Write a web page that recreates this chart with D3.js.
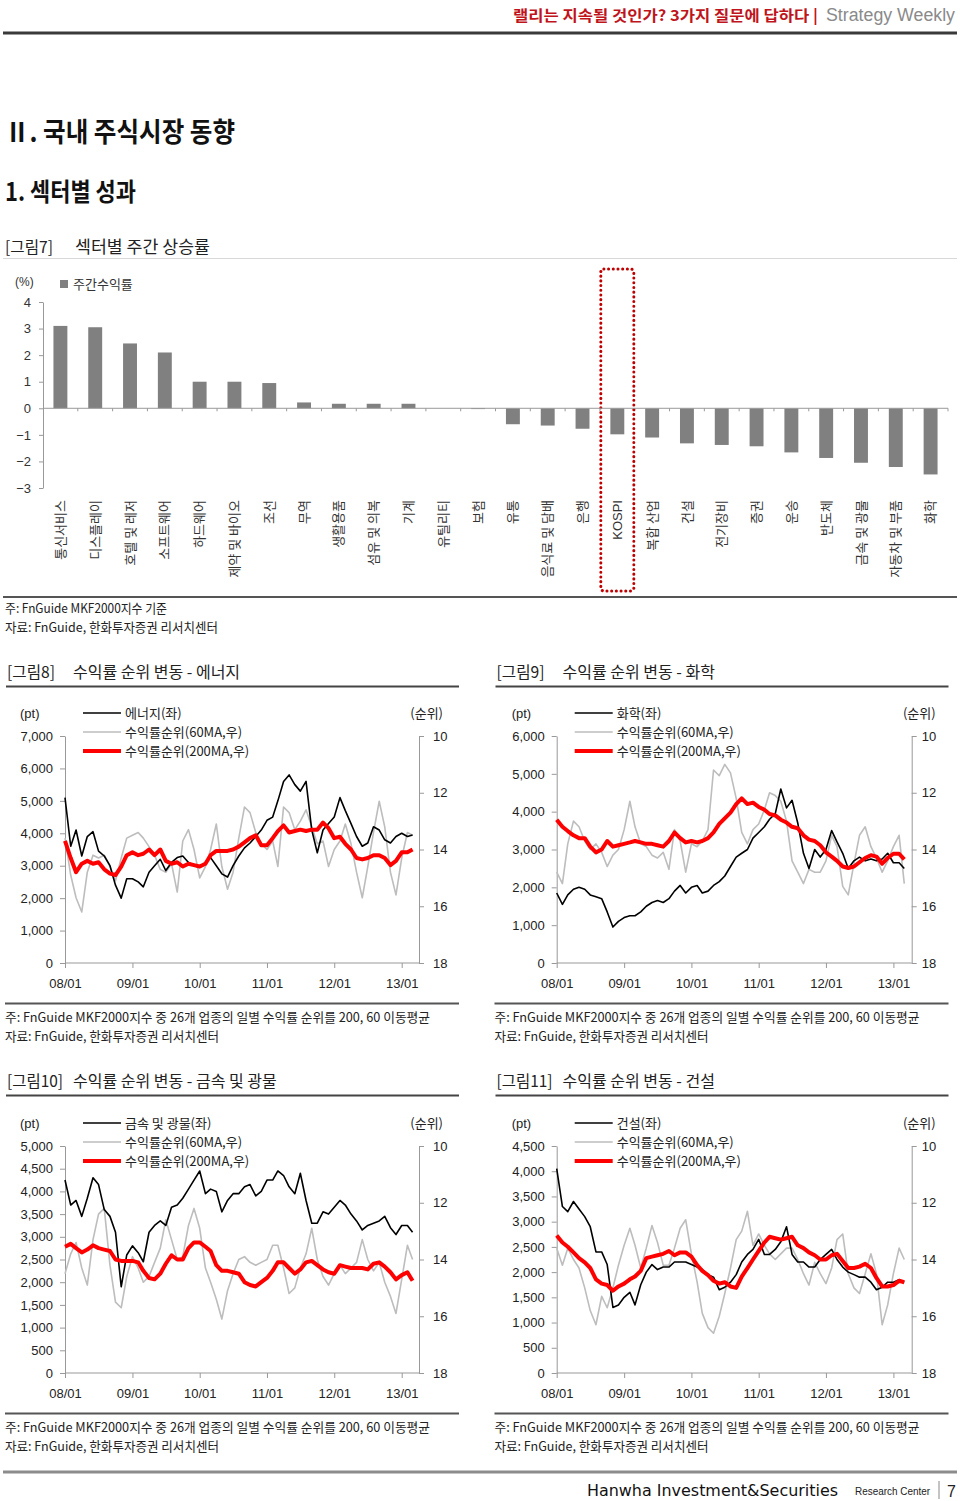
<!DOCTYPE html>
<html><head><meta charset="utf-8">
<script src="https://cdn.jsdelivr.net/npm/d3@7"></script>
<style>
body{margin:0;background:#fff}
svg{display:block}
text{font-family:'Liberation Sans','Noto Sans CJK KR',sans-serif;fill:#222}
</style></head><body>
<svg id="page" width="960" height="1501"></svg>
<script>
// ---------- DATA ----------
const sectors=["통신서비스","디스플레이","호텔 및 레저","소프트웨어","하드웨어","제약 및 바이오","조선","무역","생활용품","섬유 및 의복","기계","유틸리티","보험","유통","음식료 및 담배","은행","KOSPI","복합 산업","건설","전기장비","증권","운송","반도체","금속 및 광물","자동차 및 부품","화학"];
const weeklyReturns=[3.1,3.05,2.44,2.1,1.0,1.0,0.95,0.22,0.17,0.17,0.17,0.0,-0.03,-0.6,-0.65,-0.77,-0.98,-1.1,-1.32,-1.38,-1.43,-1.66,-1.87,-2.05,-2.21,-2.49];
const barTicks=[4,3,2,1,0,-1,-2,-3];

const yearTicks=["08/01","09/01","10/01","11/01","12/01","13/01"];
const rankTicks=[10,12,14,16,18];

const energyIndex=[5100,3600,4100,3300,3900,4050,3450,3300,3000,2400,2000,2600,
 2600,2500,2350,2800,3000,3200,2850,3100,3250,3300,3100,3000,
 2950,3100,3250,3000,2750,2650,3000,3300,3550,3700,3900,4100,
 4400,4500,5000,5600,5800,5500,5300,5600,4100,3400,4100,4300,
 4500,5100,4700,4300,3900,3600,3700,4200,4100,3800,3700,3900,
 4000,3900,3950];
const energyRank60=[13.6,14.9,15.7,16.2,14.8,14.2,14.3,14.2,14.6,15.1,14.3,13.6,
 13.5,13.4,13.6,13.9,14.2,14.7,14.8,14.5,15.5,13.7,13.3,14.0,
 15.0,14.6,14.0,13.1,14.6,15.4,14.8,13.6,12.5,12.7,13.4,13.8,
 14.0,13.7,14.6,12.5,12.7,13.3,13.0,12.6,13.2,13.8,13.7,14.6,
 14.0,13.7,13.1,13.8,14.8,15.7,14.6,13.4,12.3,13.2,14.8,15.6,
 14.3,13.4,13.5];
const energyRank200=[13.7,14.3,14.8,14.5,14.4,14.5,14.45,14.7,14.85,14.9,14.6,14.2,
 14.1,14.2,14.15,14.0,14.2,14.0,14.4,14.5,14.45,14.6,14.5,14.55,
 14.6,14.5,14.2,14.05,14.05,14.05,14.0,13.9,13.75,13.6,13.5,13.85,
 13.85,13.6,13.35,13.15,13.4,13.35,13.3,13.35,13.3,13.3,13.05,13.25,
 13.6,13.55,13.8,14.0,14.3,14.35,14.3,14.2,14.2,14.3,14.55,14.4,
 14.1,14.1,14.0];

const chemIndex=[1850,1550,1800,1950,2000,1950,1800,1750,1700,1350,950,1100,
 1200,1250,1250,1350,1500,1600,1650,1600,1700,1900,2050,1850,
 2000,2050,1850,1900,2050,2150,2300,2550,2800,2900,3000,3300,
 3450,3600,3800,3950,4600,4100,4300,3700,2900,2500,3000,2800,
 3000,3500,3200,2900,2500,2700,2800,2700,2750,2700,2750,2900,
 2650,2650,2500];
const chemRank60=[14.8,15.2,13.8,13.0,13.2,13.7,14.0,13.8,14.1,14.6,14.2,14.0,
 13.3,12.3,13.2,13.8,13.9,14.2,14.3,14.1,14.7,13.3,13.7,14.8,
 13.8,13.9,13.7,13.3,11.2,11.4,11.0,11.3,12.2,13.4,13.8,13.3,
 13.1,12.6,12.0,12.1,12.3,13.0,14.4,14.8,15.2,14.7,14.8,14.8,
 14.4,13.5,13.9,15.3,15.6,14.5,13.5,13.2,13.9,14.3,14.8,14.4,
 13.9,13.5,15.2];
const chemRank200=[12.95,13.2,13.35,13.5,13.6,13.6,13.9,14.1,14.0,13.7,13.9,13.85,
 13.8,13.75,13.7,13.75,13.8,13.8,13.85,13.9,13.7,13.4,13.6,13.75,
 13.7,13.75,13.7,13.6,13.4,13.1,12.9,12.7,12.4,12.2,12.4,12.35,
 12.5,12.6,12.75,12.8,12.95,13.05,13.2,13.25,13.5,13.65,13.7,13.85,
 14.1,14.25,14.4,14.6,14.65,14.6,14.45,14.3,14.2,14.25,14.5,14.3,
 14.15,14.15,14.35];

const metalIndex=[4250,3700,3800,3450,3850,4300,4150,3600,3450,3100,1900,2600,
 2800,2650,2450,3100,3250,3350,3250,3650,3700,3850,4050,4250,
 4450,3950,4050,4000,3550,3800,3950,3950,4100,4150,3900,4000,
 4250,4250,4450,4350,4100,3950,4400,3800,3300,3300,3550,3500,
 3650,3800,3700,3500,3350,3150,3250,3300,3350,3450,3200,3050,
 3250,3250,3100];
const metalRank60=[14.5,13.8,13.4,14.3,14.9,13.3,12.4,12.2,14.2,15.5,15.7,14.6,
 13.9,14.3,14.8,14.6,14.1,13.6,12.6,13.3,14.0,13.9,12.8,12.2,
 12.9,14.3,14.8,15.4,16.1,15.1,14.5,14.0,13.9,14.1,14.2,14.1,
 14.0,13.5,13.5,14.3,15.2,15.0,14.3,13.8,12.9,14.0,14.6,14.9,
 14.5,14.2,14.5,14.3,14.1,13.3,14.0,14.4,14.1,14.8,15.3,15.9,
 14.7,13.5,14.0];
const metalRank200=[13.55,13.45,13.6,13.75,13.65,13.5,13.6,13.65,13.7,14.0,14.05,14.05,
 14.05,14.1,14.4,14.65,14.7,14.5,14.15,13.85,14.0,14.0,13.6,13.4,
 13.4,13.55,13.7,14.2,14.4,14.4,14.45,14.5,14.8,14.9,14.95,14.8,
 14.65,14.4,14.1,14.1,14.3,14.5,14.35,14.1,14.05,14.2,14.35,14.45,
 14.5,14.2,14.25,14.3,14.3,14.3,14.35,14.15,14.1,14.25,14.45,14.7,
 14.55,14.45,14.75];

const constIndex=[4050,3300,3200,3400,3250,3100,2900,2400,2400,2150,1300,1350,
 1500,1600,1350,1750,2000,2150,2050,2100,2100,2200,2200,2200,
 2150,2100,2050,1950,1900,1650,1700,1800,1950,2200,2350,2450,
 2650,2350,2350,2450,2600,2900,2350,2200,2200,2100,2100,2250,
 2350,2450,2250,2100,2000,1950,1900,1900,1800,1650,1700,1800,
 1800,1850,1800];
const constRank60=[13.6,14.2,13.6,14.0,14.3,15.0,15.8,16.3,15.3,15.7,15.0,14.2,
 13.5,12.9,13.5,14.3,13.6,12.8,13.4,14.2,14.2,13.6,12.9,12.6,
 13.8,14.8,15.9,16.4,16.6,16.0,15.2,14.3,13.3,13.0,12.3,13.5,
 13.1,13.5,13.8,14.0,13.8,13.6,13.6,14.0,14.5,14.9,14.1,14.5,
 14.85,14.3,13.3,13.1,14.5,15.0,15.2,14.5,13.8,14.5,16.3,15.6,
 14.5,13.6,14.0];
const constRank200=[13.15,13.4,13.55,13.75,13.95,14.1,14.3,14.7,14.85,14.9,15.1,14.95,
 14.85,14.7,14.6,14.4,13.95,13.9,13.85,13.8,13.7,13.85,13.75,13.75,
 13.9,14.2,14.4,14.55,14.75,14.85,14.8,14.95,15.0,14.6,14.3,14.0,
 13.7,13.4,13.2,13.25,13.3,13.25,13.2,13.5,13.6,13.75,13.85,14.0,
 14.0,13.85,13.8,14.05,14.3,14.3,14.25,14.15,14.3,14.65,14.95,14.95,
 14.9,14.75,14.8];

// month-start dates for the monthly observations (Jan 2008 .. Mar 2013)
const months=d3.timeMonth.range(new Date(2008,0,1),new Date(2013,2,2));

// ---------- DRAW ----------
const svg=d3.select('#page');
const KR="'Noto Sans CJK KR',sans-serif";
function hline(x1,x2,y,color,w){svg.append('line').attr('x1',x1).attr('x2',x2).attr('y1',y).attr('y2',y).attr('stroke',color).attr('stroke-width',w);}
function text(x,y,s,o={}){
  const t=svg.append('text').attr('x',x).attr('y',y).text(s)
    .style('font-size',(o.size||13)+'px');
  if(o.family)t.style('font-family',o.family);
  if(o.weight)t.style('font-weight',o.weight);
  if(o.fill)t.style('fill',o.fill);
  if(o.anchor)t.attr('text-anchor',o.anchor);
  if(o.len)t.attr('textLength',o.len).attr('lengthAdjust','spacingAndGlyphs');
  return t;
}

// Header
text(818,21,"랠리는 지속될 것인가? 3가지 질문에 답하다 |",{size:15,weight:'bold',fill:'#c0141c',anchor:'end',family:KR,len:305});
text(826,21,"Strategy  Weekly",{size:18,fill:'#8a8a8a',family:"'Liberation Sans',sans-serif",len:129});
hline(3,957,33,'#3a3a3a',3);

text(5,142,"Ⅱ. 국내 주식시장 동향",{size:27,weight:'bold',family:KR,fill:'#111',len:230});
text(5,201,"1. 섹터별 성과",{size:25,weight:'bold',family:KR,fill:'#111',len:131});
text(5,253,"[그림7]",{size:16,family:KR,len:48});
text(75,253,"섹터별 주간 상승률",{size:17,family:KR,len:135});
hline(3,957,258.5,'#d8d8d8',1);

// ---- Bar chart ----
const yb=d3.scaleLinear().domain([-3,4]).range([488,302]);
const xb=d3.scaleBand().domain(sectors).range([43,948]).paddingInner(0.6).paddingOuter(0.3);
const gb=svg.append('g');
gb.selectAll('rect.bar').data(sectors).join('rect')
  .attr('x',d=>xb(d)).attr('width',xb.bandwidth())
  .attr('y',(d,i)=>yb(Math.max(0,weeklyReturns[i])))
  .attr('height',(d,i)=>Math.abs(yb(weeklyReturns[i])-yb(0)))
  .attr('fill','#808080');
const yAxB=gb.append('g').attr('transform','translate(43,0)')
  .call(d3.axisLeft(yb).tickValues(barTicks).tickSize(4).tickSizeOuter(0).tickPadding(8).tickFormat(d=>d<0?'−'+Math.abs(d):d));
yAxB.select('.domain').attr('stroke','#999');
yAxB.selectAll('.tick line').attr('stroke','#999');
yAxB.selectAll('.tick text').style('font-size','13px').style('fill','#333');
hline(43,948,yb(0),'#999',1);
gb.selectAll('line.bt').data(d3.range(1,27)).join('line')
  .attr('x1',i=>43+i*xb.step()).attr('x2',i=>43+i*xb.step())
  .attr('y1',yb(0)).attr('y2',yb(0)+3).attr('stroke','#999');
gb.selectAll('text.cat').data(sectors).join('text')
  .attr('transform',d=>`translate(${xb(d)+xb.bandwidth()/2},500) rotate(-90)`)
  .attr('text-anchor','end').attr('dy','0.35em')
  .style('font-size','13px').style('fill','#333')
  .style('font-family',d=>d==='KOSPI'?"'Liberation Sans',sans-serif":KR)
  .text(d=>d);
text(15,286,"(%)",{size:12,fill:'#333'});
gb.append('rect').attr('x',60).attr('y',280).attr('width',8).attr('height',8).attr('fill','#808080');
text(73,289,"주간수익률",{size:13,fill:'#333',family:KR});
// KOSPI highlight
const kx=xb('KOSPI')+xb.bandwidth()/2;
gb.append('rect').attr('x',kx-16.5).attr('y',269).attr('width',33).attr('height',322).attr('rx',3)
  .attr('fill','none').attr('stroke','#c00000').attr('stroke-width',3)
  .attr('stroke-dasharray','0.1 4.6').attr('stroke-linecap','round');
hline(3,957,597,'#555',2);
text(5,613,"주: FnGuide MKF2000지수 기준",{size:13,family:KR,len:162});
text(5,632,"자료: FnGuide, 한화투자증권 리서치센터",{size:13,family:KR,len:213});

// ---- Line charts ----
function drawChart(cfg,name,idx,r60,r200){
  const g=svg.append('g');
  const x=d3.scaleTime().domain([new Date(2008,0,1),new Date(2013,0,1)]).range([cfg.left,cfg.left+336.7]);
  const yL=d3.scaleLinear().domain([0,cfg.max]).range([cfg.bottom,cfg.top]);
  const yR=d3.scaleLinear().domain([10,18]).range([cfg.top,cfg.bottom]);
  text(cfg.tx,cfg.ty,cfg.fig,{size:16,family:KR,len:cfg.figLen});
  text(cfg.tx+66,cfg.ty,"수익률 순위 변동 - "+name,{size:16,family:KR});
  hline(cfg.tx-1,cfg.tx+452,cfg.ty+8.5,'#444',2);
  const aL=g.append('g').attr('transform',`translate(${cfg.left},0)`)
    .call(d3.axisLeft(yL).tickValues(d3.range(0,cfg.max+1,cfg.step)).tickFormat(d3.format(',')).tickSize(5).tickSizeOuter(0).tickPadding(7));
  const aR=g.append('g').attr('transform',`translate(${cfg.right},0)`)
    .call(d3.axisRight(yR).tickValues(rankTicks).tickSize(5).tickSizeOuter(0).tickPadding(cfg.rpad));
  const aX=g.append('g').attr('transform',`translate(0,${cfg.bottom})`)
    .call(d3.axisBottom(x).tickValues(yearTicks.map(s=>new Date(2000+ +s.slice(0,2),+s.slice(3)-1,1))).tickFormat((d,i)=>yearTicks[i]).tickSize(5).tickSizeOuter(0).tickPadding(cfg.xpad));
  aX.select('.domain').remove();
  g.append('line').attr('x1',cfg.left).attr('x2',cfg.right).attr('y1',cfg.bottom).attr('y2',cfg.bottom).attr('stroke','#999');
  [aL,aR,aX].forEach(a=>{
    a.select('.domain').attr('stroke','#999');
    a.selectAll('.tick line').attr('stroke','#999');
    a.selectAll('.tick text').style('font-size','13px').style('fill','#222').style('font-family',"'Liberation Sans',sans-serif");
  });
  const mk=(vals,ys)=>d3.line().x((d,i)=>x(months[i])).y(d=>ys(d))(vals);
  g.append('path').attr('d',mk(r60,yR)).attr('fill','none').attr('stroke','#bdbdbd').attr('stroke-width',1.6).attr('stroke-linejoin','round');
  g.append('path').attr('d',mk(idx,yL)).attr('fill','none').attr('stroke','#000').attr('stroke-width',1.6).attr('stroke-linejoin','round');
  g.append('path').attr('d',mk(r200,yR)).attr('fill','none').attr('stroke','#ff0000').attr('stroke-width',4).attr('stroke-linejoin','round');
  text(cfg.left-45,cfg.top-18,"(pt)",{size:13});
  text(cfg.right+24,cfg.top-18,"(순위)",{size:13,anchor:'end',family:KR});
  const leg=[["#000",1.6,name+"(좌)"],["#bdbdbd",1.6,"수익률순위(60MA,우)"],["#ff0000",4,"수익률순위(200MA,우)"]];
  leg.forEach((l,i)=>{
    const ly=cfg.top-23+i*19;
    g.append('line').attr('x1',cfg.left+18).attr('x2',cfg.left+56).attr('y1',ly).attr('y2',ly).attr('stroke',l[0]).attr('stroke-width',l[1]);
    text(cfg.left+60,ly+4.5,l[2],{size:13,family:KR});
  });
  hline(cfg.tx-2,cfg.tx+452,cfg.bottom+40.5,'#555',2);
  text(cfg.tx-2,cfg.bottom+59,"주: FnGuide MKF2000지수 중 26개 업종의 일별 수익률 순위를 200, 60 이동평균",{size:13,family:KR,len:425});
  text(cfg.tx-2,cfg.bottom+78,"자료: FnGuide, 한화투자증권 리서치센터",{size:13,family:KR,len:214});
}
drawChart({left:65,right:419,top:736,bottom:963,max:7000,step:1000,rpad:9,xpad:11,tx:7,ty:678,fig:"[그림8]",figLen:48},"에너지",energyIndex,energyRank60,energyRank200);
drawChart({left:556.7,right:911.7,top:736,bottom:963,max:6000,step:1000,rpad:5,xpad:11,tx:496.5,ty:678,fig:"[그림9]",figLen:48},"화학",chemIndex,chemRank60,chemRank200);
drawChart({left:65,right:419,top:1146,bottom:1373,max:5000,step:500,rpad:9,xpad:10.5,tx:7,ty:1087,fig:"[그림10]",figLen:56},"금속 및 광물",metalIndex,metalRank60,metalRank200);
drawChart({left:556.7,right:911.7,top:1146,bottom:1373,max:4500,step:500,rpad:5,xpad:10.5,tx:496.5,ty:1087,fig:"[그림11]",figLen:56},"건설",constIndex,constRank60,constRank200);

// Footer
svg.append('line').attr('x1',3).attr('x2',957).attr('y1',1472).attr('y2',1472).attr('stroke','#8c8c8c').attr('stroke-width',3);
text(587,1496,"Hanwha Investment&Securities",{size:16,family:"'DejaVu Sans',sans-serif",fill:'#111',len:251});
text(855,1495,"Research Center",{size:11,fill:'#222',len:75});
svg.append('line').attr('x1',939).attr('x2',939).attr('y1',1481).attr('y2',1499).attr('stroke','#888').attr('stroke-width',1);
text(947,1497,"7",{size:16,fill:'#222'});
</script>
</body></html>
